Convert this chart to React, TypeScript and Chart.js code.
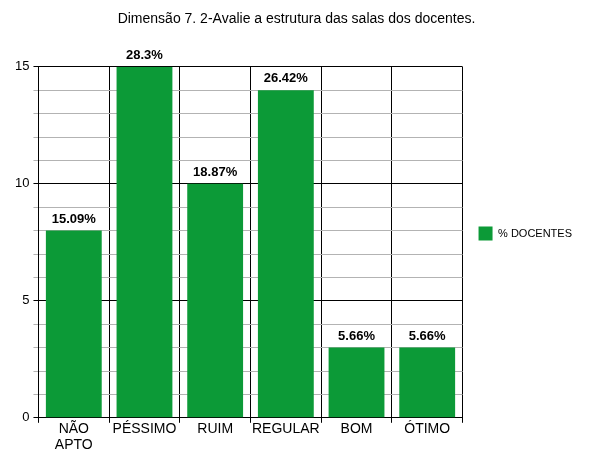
import React, { useEffect, useRef } from "react";
import { Chart, registerables } from "chart.js";

Chart.register(...registerables);

const categories: (string | string[])[] = [["NÃO", "APTO"], "PÉSSIMO", "RUIM", "REGULAR", "BOM", "ÓTIMO"];
const values: number[] = [8, 15, 10, 14, 3, 3];
const percentLabels: string[] = ["15.09%", "28.3%", "18.87%", "26.42%", "5.66%", "5.66%"];
const seriesName = "% DOCENTES";
const titleText = "Dimensão 7. 2-Avalie a estrutura das salas dos docentes.";

const FONT = "'Liberation Sans', Arial, sans-serif";
const GREEN = "#0c9a37";

const valueLabelPlugin = {
  id: "valueLabels",
  afterDatasetsDraw(chart: any) {
    const ctx = chart.ctx;
    const meta = chart.getDatasetMeta(0);
    ctx.save();
    ctx.font = `bold 13px ${FONT}`;
    ctx.fillStyle = "#000";
    ctx.textAlign = "center";
    ctx.textBaseline = "alphabetic";
    meta.data.forEach((bar: any, i: number) => {
      ctx.fillText(percentLabels[i], bar.x, bar.y - 8);
    });
    ctx.restore();
  },
};

const legendShiftPlugin = {
  id: "legendShift",
  afterLayout(chart: any) {
    const lg = chart.legend;
    if (lg) {
      lg.top += 8;
      lg.bottom += 8;
    }
  },
};

export default function App() {
  const canvasRef = useRef<HTMLCanvasElement | null>(null);

  useEffect(() => {
    if (!canvasRef.current) return;
    const chart = new Chart(canvasRef.current, {
      type: "bar",
      data: {
        labels: categories,
        datasets: [
          {
            label: seriesName,
            data: values,
            backgroundColor: GREEN,
            borderWidth: 0,
            categoryPercentage: 1,
            barPercentage: 0.79,
          },
        ],
      },
      options: {
        animation: false,
        responsive: false,
        maintainAspectRatio: false,
        layout: { padding: { left: 11, right: 18, top: 0, bottom: 12 } },
        plugins: {
          title: {
            display: true,
            text: titleText,
            color: "#000",
            font: { family: FONT, size: 14, weight: "normal" },
            padding: { top: 11, bottom: 39 },
          },
          legend: {
            display: true,
            position: "right",
            labels: {
              color: "#000",
              font: { family: FONT, size: 11 },
              boxWidth: 14,
              boxHeight: 14,
              padding: 16,
            },
          },
          tooltip: { enabled: false },
        },
        scales: {
          x: {
            offset: true,
            grid: {
              offset: true,
              color: "#000",
              lineWidth: 1,
              tickLength: 5,
              drawOnChartArea: true,
            },
            border: { color: "#000" },
            ticks: {
              color: "#000",
              font: { family: FONT, size: 14, lineHeight: 1.15 },
              maxRotation: 0,
              autoSkip: false,
              padding: -2,
            },
          },
          y: {
            min: 0,
            max: 15,
            grid: {
              color: (c: any) => (c.tick && c.tick.value % 5 === 0 ? "#000" : "#b3b3b3"),
              tickLength: 5,
            },
            border: { color: "#000" },
            ticks: {
              stepSize: 1,
              autoSkip: false,
              color: "#000",
              font: { family: FONT, size: 13 },
              padding: 4,
              callback: (v: any) => (Number(v) % 5 === 0 ? String(v) : ""),
            },
          },
        },
      },
      plugins: [valueLabelPlugin, legendShiftPlugin],
    });
    return () => chart.destroy();
  }, []);

  return (
    <div style={{ position: "fixed", left: 0, top: 0, width: 600, height: 463, background: "#fff" }}>
      <canvas ref={canvasRef} width={600} height={463} style={{ width: 600, height: 463 }} />
    </div>
  );
}
